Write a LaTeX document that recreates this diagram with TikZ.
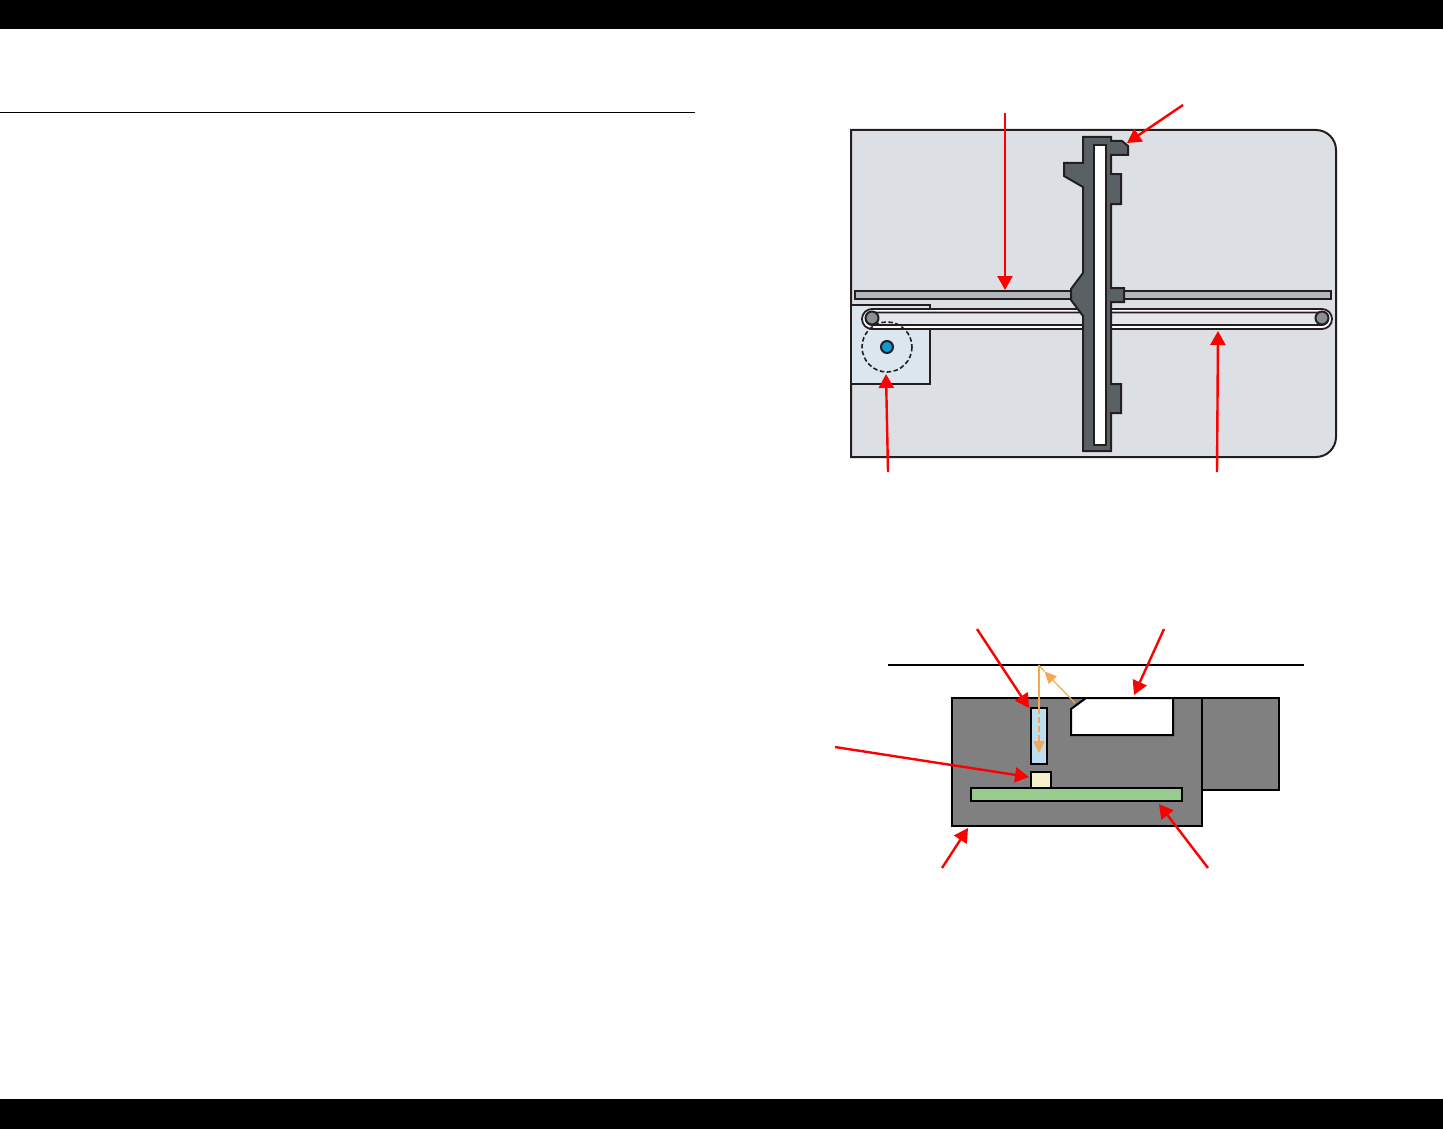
\documentclass[tikz,border=0pt]{standalone}
\usetikzlibrary{arrows.meta}
\definecolor{plate}{HTML}{DCDFE4}
\definecolor{railc}{HTML}{B2B7BD}
\definecolor{motorc}{HTML}{DCE6EE}
\definecolor{carc}{HTML}{596164}
\definecolor{edgec}{HTML}{231F20}
\definecolor{pulleyc}{HTML}{8A8F93}
\definecolor{shaftc}{HTML}{0F9BD0}
\definecolor{bodyc}{HTML}{808080}
\definecolor{lensc}{HTML}{BDDDF0}
\definecolor{ledc}{HTML}{F6F0C8}
\definecolor{boardc}{HTML}{98CB8E}
\definecolor{beamc}{HTML}{F5A851}
\definecolor{redc}{HTML}{FF0000}
\definecolor{beltc}{HTML}{E4E6EA}
\tikzset{
  part/.style={draw=edgec,line width=2pt,line join=miter},
  bpart/.style={draw=black,line width=2pt,line join=miter},
  callout/.style={draw=redc,line width=2.4pt,-{Triangle[length=14pt,width=15pt]}},
  beam/.style={draw=beamc,line width=1.2pt},
  beamarrow/.style={beam,-{Triangle[length=12pt,width=11pt]}}
}
\begin{document}
\begin{tikzpicture}[x=1pt,y=-1pt]
\useasboundingbox (0,0) rectangle (1443,1129);
\fill[black] (0,0) rectangle (1443,29.5);
\fill[black] (0,1099) rectangle (1443,1129);
\draw[black,line width=1.2pt] (0,112.5) -- (695,112.5);
% top view
\draw[part,fill=plate] (851,130) -- (1316,130) .. controls (1327,130) and (1336,139) .. (1336,150) -- (1336,437) .. controls (1336,448) and (1327,457) .. (1316,457) -- (851,457) -- cycle;
\draw[part,fill=railc] (855,291) rectangle (1331,299);
\draw[part,line width=1.6pt,fill=motorc] (851,305) rectangle (930,384);
\draw[part,line width=1.8pt,fill=white,rounded corners=10pt] (862,309) rectangle (1332,329);
\draw[draw=edgec,line width=1.8pt,fill=beltc,rounded corners=6pt] (866,312.5) rectangle (1328,325);
\draw[draw=edgec,line width=1.6pt,dash pattern=on 4.5pt off 2.5pt] (887,347) circle[radius=25];
\draw[part,fill=shaftc] (887,347) circle[radius=6];
\draw[part,fill=pulleyc] (872,318) circle[radius=6.5];
\draw[part,fill=pulleyc] (1322,318) circle[radius=6.5];
\draw[part,fill=carc] (1083,137) -- (1111,137) -- (1111,141) -- (1122,141) -- (1128,146) -- (1128,155) -- (1111,155) -- (1111,174) -- (1121,174) -- (1121,204) -- (1111,204) -- (1111,288) -- (1124,288) -- (1124,302) -- (1111,302) -- (1111,384) -- (1121,384) -- (1121,413) -- (1111,413) -- (1111,451) -- (1083,451) -- (1083,316) -- (1071,300) -- (1071,289) -- (1083,273) -- (1083,187) -- (1064,176) -- (1064,163) -- (1083,163) -- cycle;
\draw[part,fill=white] (1094,145) rectangle (1106,445);
% side view
\draw[black,line width=2pt] (888,664.5) -- (1304,664.5);
\draw[bpart,fill=bodyc] (1202,698) rectangle (1279,790);
\draw[bpart,fill=bodyc] (952,698) rectangle (1202,826);
\draw[bpart,fill=white] (1071,735) -- (1071,709) -- (1086,698) -- (1173,698) -- (1173,735) -- cycle;
\draw[bpart,fill=lensc] (1031,708) rectangle (1047,764);
\draw[bpart,fill=ledc] (1031,772) rectangle (1051,788);
\draw[bpart,fill=boardc] (971,788) rectangle (1182,801);
\coordinate (apex) at (1039,665);
\coordinate (lensin) at (1039,708);
\coordinate (lensout) at (1039,753);
\coordinate (mirror) at (1075,703);
\coordinate (mirrorhead) at (1044.5,671.5);
\draw[beam] (apex) -- (lensin);
\draw[beamarrow,dash pattern=on 6pt off 3pt] (lensin) -- (lensout);
\draw[beam] (apex) -- (mirrorhead);
\draw[beamarrow] (mirror) -- (mirrorhead);
% callouts
\coordinate (a1) at (1005,113); \coordinate (a2) at (1005,290);
\coordinate (b1) at (1183,105); \coordinate (b2) at (1127,143);
\coordinate (c1) at (888,472); \coordinate (c2) at (886,374);
\coordinate (d1) at (1217,472); \coordinate (d2) at (1218,331);
\coordinate (e1) at (977,629); \coordinate (e2) at (1029,708);
\coordinate (f1) at (1164,629); \coordinate (f2) at (1134,695);
\coordinate (g1) at (835,747); \coordinate (g2) at (1029,777);
\coordinate (h1) at (942,868); \coordinate (h2) at (968,828);
\coordinate (i1) at (1208,868); \coordinate (i2) at (1159,804);
\foreach \s/\t in {a1/a2,b1/b2,c1/c2,d1/d2,e1/e2,f1/f2,g1/g2,h1/h2,i1/i2}
  \draw[callout] (\s) -- (\t);
\end{tikzpicture}
\end{document}
